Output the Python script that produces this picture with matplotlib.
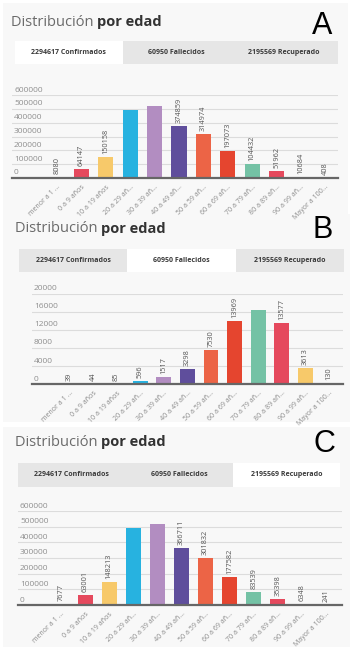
import matplotlib
matplotlib.use("Agg")
import matplotlib.pyplot as plt
from matplotlib.patches import Rectangle
from matplotlib import transforms

W, H = 351, 650

# age groups (x categories)
edades = ["menor a 1 ...", "0 a 9 años", "10 a 19 años", "20 a 29 añ...",
          "30 a 39 añ...", "40 a 49 añ...", "50 a 59 añ...", "60 a 69 añ...",
          "70 a 79 añ...", "80 a 89 añ...", "90 a 99 añ...", "Mayor a 100..."]

# values per panel (unlabelled tall bars estimated from the picture / totals)
confirmados = [8080, 64147, 150158, 494500, 523340, 374859, 314974,
               197073, 104432, 51962, 10684, 408]
fallecidos = [39, 44, 85, 596, 1517, 3298, 7530, 13969, 16552, 13577, 3613, 130]
recuperados = [7677, 63001, 148213, 488500, 516527, 366711, 301832,
               177582, 83539, 35398, 6348, 241]

tabs = ["2294617 Confirmados", "60950 Fallecidos", "2195569 Recuperado"]
colores = ["#74c2a5", "#e5495d", "#f7c96a", "#27b2e0",
           "#b28dc1", "#5f4e9c", "#ec6446", "#e5452f"]

fig = plt.figure(figsize=(W / 100, H / 100), dpi=100)
fig.patch.set_facecolor("white")
renderer = fig.canvas.get_renderer()


def fx(x):
    return x / W


def fy(y):
    return 1 - y / H


def box(x0, y0, x1, y1, color, z=0):
    fig.patches.append(Rectangle((fx(x0), fy(y1)), (x1 - x0) / W, (y1 - y0) / H,
                                 transform=fig.transFigure, facecolor=color,
                                 edgecolor="none", zorder=z))


def panel(bg, title_xy, letter, letter_xy, tab_box, active, ax_box,
          values, ymax, step, first_center, band):
    # panel background
    box(*bg, "#f8f8f8")

    # title: light part + bold part
    t1 = fig.text(fx(title_xy[0]), fy(title_xy[1]), "Distribución ",
                  fontsize=10.5, color="#6a6a6a", family="Open Sans",
                  va="center", ha="left")
    ext = t1.get_window_extent(renderer)
    fig.text(ext.x1 / fig.dpi / fig.get_figwidth(), fy(title_xy[1]), "por edad",
             fontsize=10.5, color="#333333", family="Open Sans",
             fontweight="bold", va="center", ha="left")

    fig.text(fx(letter_xy[0]), fy(letter_xy[1]), letter, fontsize=22,
             color="black", family="Liberation Sans", ha="center", va="center")

    # tabs
    x0, y0, x1, y1 = tab_box
    box(x0, y0, x1, y1, "#e6e6e6", 1)
    tw = (x1 - x0) / 3
    box(x0 + active * tw, y0, x0 + (active + 1) * tw, y1, "white", 2)
    for i, label in enumerate(tabs):
        fig.text(fx(x0 + (i + 0.5) * tw), fy((y0 + y1) / 2), label,
                 fontsize=5, color="#3a3a3a", family="Open Sans",
                 fontweight="bold", ha="center", va="center", zorder=3)

    # chart
    l, t, r, b = ax_box
    ax = fig.add_axes([fx(l), fy(b), (r - l) / W, (b - t) / H], zorder=5)
    ax.patch.set_alpha(0)
    n = len(values)
    x = list(range(n))
    ax.set_xlim(-(first_center - l) / band,
                (n - 1) + (r - (first_center + (n - 1) * band)) / band)
    ax.set_ylim(0, ymax)

    ticks = list(range(0, ymax + 1, step))
    for v in ticks[1:]:
        ax.axhline(v, color="#dcdcdc", lw=0.8, zorder=0)
    ax.axhline(0, color="#666666", lw=1.6, zorder=3, clip_on=False)
    lab_tr = transforms.offset_copy(
        transforms.blended_transform_factory(ax.transAxes, ax.transData),
        fig=fig, x=2, y=1.5, units="dots")
    for v in ticks:
        ax.text(0, v, str(v), transform=lab_tr, fontsize=6, color="#8f8f8f",
                family="Open Sans", ha="left", va="bottom", clip_on=False)

    cols = [colores[i % len(colores)] for i in range(n)]
    ax.bar(x, values, width=0.62, color=cols, zorder=2)

    val_tr = transforms.offset_copy(ax.transData, fig=fig, y=3, units="dots")
    for i, v in zip(x, values):
        # labels of the tallest bars fall outside the chart area and are hidden
        if v < 0.75 * ymax:
            ax.text(i, v, str(v), transform=val_tr, rotation=90, fontsize=5.3,
                    color="#555555", family="Open Sans", ha="center", va="bottom")

    ax.set_xticks(x)
    ax.set_xticklabels(edades, rotation=45, ha="right", rotation_mode="anchor",
                       fontsize=5, color="#8a8a8a", family="Open Sans")
    ax.tick_params(axis="x", length=0, pad=4)
    ax.set_yticks([])
    for s in ax.spines.values():
        s.set_visible(False)
    return ax


panel((3, 3, 348, 215), (11, 22), "A", (322, 26), (15, 41, 338, 64), 0,
      (12, 95, 338, 178), confirmados, 600000, 100000, 57, 24.4)
panel((3, 214, 350, 422), (15, 229), "B", (323, 230), (19, 249, 344, 272), 1,
      (32, 294, 343, 384), fallecidos, 20000, 4000, 69.4, 23.6)
panel((3, 427, 350, 647), (15, 442), "C", (324, 444), (18, 463, 340, 487), 2,
      (18, 511, 342, 605), recuperados, 600000, 100000, 61, 24.1)

fig.savefig("out.png", dpi=100, facecolor=fig.get_facecolor())
